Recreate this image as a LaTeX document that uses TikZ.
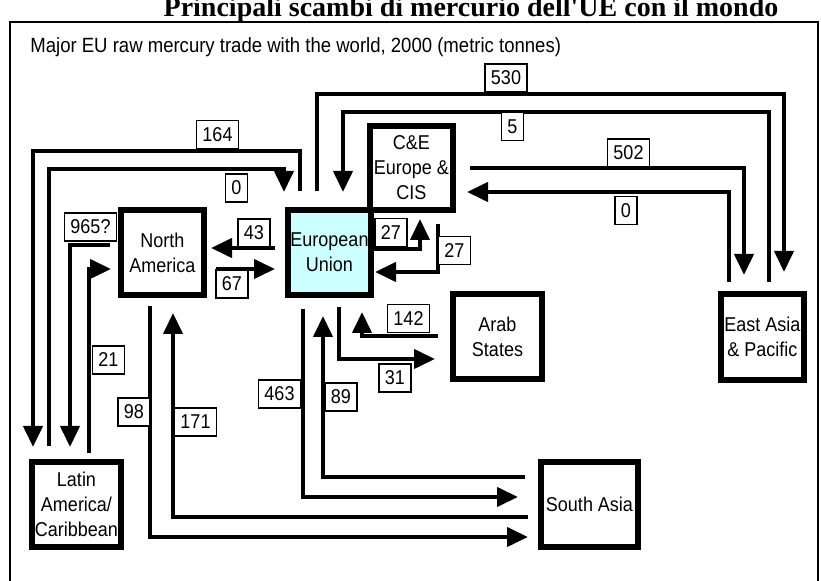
\documentclass[tikz,border=0pt]{standalone}
\usepackage{fontspec}
\setmainfont{Liberation Sans}[FakeStretch=0.9]
\newfontfamily\titlefont{Liberation Serif}
\usetikzlibrary{positioning, arrows.meta}
\definecolor{euCyan}{RGB}{204,255,255}

\begin{document}
\begin{tikzpicture}[
    x=0.5pt, y=-0.5pt,
    region/.style={draw, rectangle, line width=3pt, minimum width=41.5pt, minimum height=42.5pt, inner sep=0pt, align=center, font=\fontsize{10}{12.5}\selectfont},
    qty/.style={draw, rectangle, fill=white, line width=0.8pt, minimum height=14pt, inner xsep=3pt, inner ysep=0pt, font=\fontsize{10}{12}\selectfont},
    flow/.style={-{Triangle[length=10.5pt, width=9.5pt]}, line width=2pt}
]
\useasboundingbox (0,0) rectangle (821,581);

% title, frame and caption
\node[anchor=base, font=\titlefont\bfseries\fontsize{14}{16}\selectfont] (title) at (471,17) {Principali scambi di mercurio dell'UE con il mondo};
\draw[line width=1.4pt] (10,600) |- (818,22) -- (818,600);
\node[anchor=west, font=\fontsize{10.3}{12}\selectfont, inner sep=0pt] (caption) at (30,47) {Major EU raw mercury trade with the world, 2000 (metric tonnes)};

% regions
\node[region, fill=euCyan] (EU) at (329.5,252.5) {European\\Union};
\node[region] (NA) at (162.5,252.5) {North\\America};
\node[region, minimum height=42pt] (CE) at (411.5,168) {C\&E\\Europe \&\\CIS};
\node[region, minimum width=44.5pt] (AR) at (497.5,336.5) {Arab\\States};
\node[region, minimum height=43pt] (EA) at (762.5,337) {East Asia\\\& Pacific};
\node[region, minimum width=44.5pt] (LA) at (76.5,504.5) {Latin\\America/\\Caribbean};
\node[region, minimum width=48.5pt] (SA) at (589.5,504.5) {South Asia};

% free ends of the flows
\coordinate (eu530) at (317,191);   \coordinate (ea530) at (784,272);
\coordinate (ea5) at (769,282);     \coordinate (eu5) at (343,192);
\coordinate (ce502) at (470,168);   \coordinate (ea502) at (744,275);
\coordinate (ea0) at (729,282);     \coordinate (ce0) at (467,192);
\coordinate (eu164) at (300,191);   \coordinate (la164) at (33,447);
\coordinate (la0) at (49,446);      \coordinate (eu0) at (284,192);
\coordinate (na965) at (110,245);   \coordinate (la965) at (70,447);
\coordinate (la21) at (89,453);     \coordinate (na21) at (111,269);
\coordinate (eu43) at (275,248);    \coordinate (na43) at (211,248);
\coordinate (na67) at (216,269);    \coordinate (eu67) at (275,269);
\coordinate (eu27) at (374,249);    \coordinate (ce27) at (420,219);
\coordinate (ce27b) at (438,224);   \coordinate (eu27b) at (375,272);
\coordinate (ar142) at (438,336);   \coordinate (eu142) at (362,312);
\coordinate (eu31) at (339,307);    \coordinate (ar31) at (435,359);
\coordinate (eu463) at (303,309);   \coordinate (sa463) at (518,497);
\coordinate (sa89) at (525,477);    \coordinate (eu89) at (323,316);
\coordinate (na98) at (150,306);    \coordinate (sa98) at (528,537);
\coordinate (sa171) at (528,517);   \coordinate (na171) at (173,313);

% flows
\draw[flow] (eu530) -- ++(0,-97) -| (ea530);
\draw[flow] (ea5) -- ++(0,-170) -| (eu5);
\draw[flow] (ce502) -| (ea502);
\draw[flow] (ea0) |- (ce0);
\draw[flow] (eu164) -- ++(0,-40) -| (la164);
\draw[flow] (la0) -- ++(0,-277) -| (eu0);
\draw[flow] (na965) -| (la965);
\draw[flow] (la21) |- (na21);
\draw[flow] (eu43) -- (na43);
\draw[flow] (na67) -- (eu67);
\draw[flow] (eu27) -| (ce27);
\draw[flow] (ce27b) |- (eu27b);
\draw[flow] (ar142) -| (eu142);
\draw[flow] (eu31) |- (ar31);
\draw[flow] (eu463) |- (sa463);
\draw[flow] (sa89) -| (eu89);
\draw[flow] (na98) |- (sa98);
\draw[flow] (sa171) -| (na171);

% quantities
\node[qty] (q530) at (506,78) {530};
\node[qty] (q5) at (512.5,126.5) {5};
\node[qty] (q502) at (628.5,153) {502};
\node[qty] (q0ea) at (626,210.5) {0};
\node[qty] (q164) at (217.5,134.5) {164};
\node[qty] (q0la) at (236.5,188) {0};
\node[qty] (q965) at (90.5,227) {965?};
\node[qty] (q21) at (108.5,360) {21};
\node[qty] (q43) at (254,233) {43};
\node[qty] (q67) at (232,284) {67};
\node[qty] (q27a) at (391,232.5) {27};
\node[qty] (q27b) at (454.5,250.5) {27};
\node[qty] (q142) at (408.5,318.5) {142};
\node[qty] (q31) at (395,378) {31};
\node[qty] (q463) at (279.5,394) {463};
\node[qty] (q89) at (341,397) {89};
\node[qty] (q98) at (134,412) {98};
\node[qty] (q171) at (195.5,422) {171};

\end{tikzpicture}
\end{document}
